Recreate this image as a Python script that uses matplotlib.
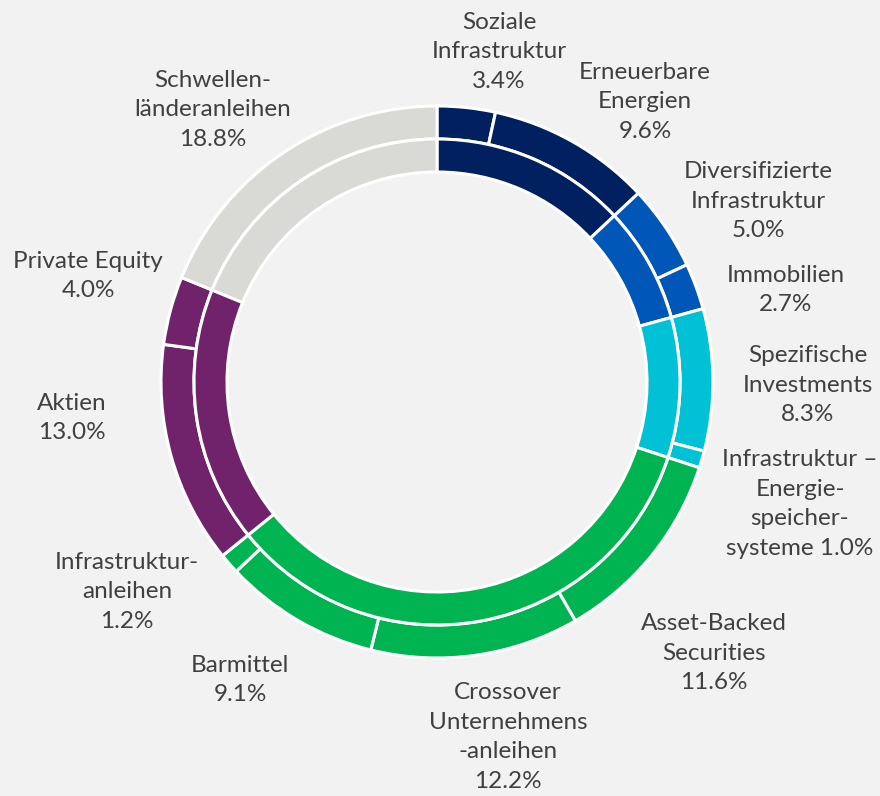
import matplotlib.pyplot as plt

# Einzelpositionen (aussen), im Uhrzeigersinn ab 12 Uhr
labels = ['Soziale\nInfrastruktur', 'Erneuerbare\nEnergien', 'Diversifizierte\nInfrastruktur',
          'Immobilien', 'Spezifische\nInvestments', 'Infrastruktur \u2013\nEnergie-\nspeicher-\nsysteme',
          'Asset-Backed\nSecurities', 'Crossover\nUnternehmens\n-anleihen', 'Barmittel',
          'Infrastruktur-\nanleihen', 'Aktien', 'Private Equity', 'Schwellen-\nl\u00e4nderanleihen']
values = [3.4, 9.6, 5.0, 2.7, 8.3, 1.0, 11.6, 12.2, 9.1, 1.2, 13.0, 4.0, 18.8]
group_of = [0, 0, 1, 1, 2, 2, 3, 3, 3, 3, 4, 4, 5]

group_colors = ['#002060', '#0057B8', '#00C1D5', '#00B451', '#70236B', '#D9D9D6']

# Gruppen (innen)
group_values = [sum(v for v, g in zip(values, group_of) if g == k) for k in range(len(group_colors))]

# Label-Layout (Pixel, Ursprung oben links)
label_pos = [(499, 52), (645, 102), (758, 201), (786, 290), (808, 385), (800, 504),
             (714, 653), (508, 737), (240, 680), (127, 592), (72, 418), (88, 276), (213, 110)]

W, H = 880, 796
fig = plt.figure(figsize=(W / 100, H / 100), dpi=100)
fig.patch.set_facecolor('#F2F2F2')
ax = fig.add_axes([0, 0, 1, 1])
ax.set_facecolor('#F2F2F2')

cx, cy = 437, H - 382
r_out, ring = 276, 33

ax.pie(values, colors=[group_colors[g] for g in group_of], radius=r_out, center=(cx, cy),
       startangle=90, counterclock=False,
       wedgeprops=dict(width=ring, edgecolor='white', linewidth=2.2))
ax.pie(group_values, colors=group_colors, radius=r_out - ring, center=(cx, cy),
       startangle=90, counterclock=False,
       wedgeprops=dict(width=ring, edgecolor='white', linewidth=2.2))

for lab, v, (x, y) in zip(labels, values, label_pos):
    if lab.endswith('systeme'):
        txt = lab + f' {v:.1f}%'
    else:
        txt = lab + f'\n{v:.1f}%'
    ax.text(x, H - y, txt, ha='center', va='center', fontsize=17.5, color='#404040',
            family='Lato', linespacing=1.5)

ax.set_xlim(0, W)
ax.set_ylim(0, H)
ax.set_aspect('equal')
ax.axis('off')
fig.savefig('out.png', dpi=100, facecolor=fig.get_facecolor())
